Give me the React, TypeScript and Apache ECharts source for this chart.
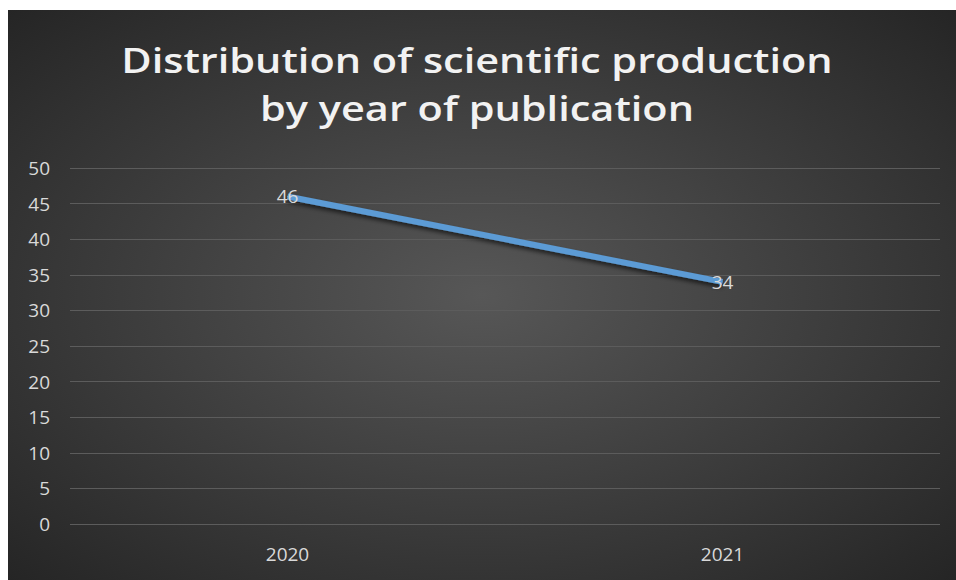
import React, { useEffect, useRef } from "react";
import * as echarts from "echarts";

const titleLines = ["Distribution of scientific production", "by year of publication"];
const years = ["2020", "2021"];
const counts = [46, 34];
const yMin = 0;
const yMax = 50;
const yStep = 5;

export default function App() {
  const ref = useRef<HTMLDivElement>(null);
  useEffect(() => {
    if (!ref.current) return;
    const chart = echarts.init(ref.current, null, { renderer: "svg" });
    const titleStyle = {
      fill: "#f2f2f2",
      font: "600 34px 'Open Sans'",
      textAlign: "center",
      textVerticalAlign: "middle",
      shadowColor: "rgba(0,0,0,0.75)",
      shadowBlur: 4,
      shadowOffsetX: 2,
      shadowOffsetY: 2,
    };
    chart.setOption({
      animation: false,
      backgroundColor: new echarts.graphic.RadialGradient(0.5, 0.5, 0.75, [
        { offset: 0, color: "#575757" },
        { offset: 1, color: "#222222" },
      ]),
      graphic: [
        {
          type: "text",
          x: 469,
          y: 50,
          scaleX: 1.22,
          style: { ...titleStyle, text: titleLines[0] },
        },
        {
          type: "text",
          x: 469,
          y: 98,
          scaleX: 1.22,
          style: { ...titleStyle, text: titleLines[1] },
        },
      ],
      grid: { left: 62, right: 16, top: 158, bottom: 56 },
      xAxis: {
        type: "category",
        data: years,
        boundaryGap: true,
        axisLine: { show: false },
        axisTick: { show: false },
        axisLabel: { color: "#d9d9d9", fontSize: 19, fontFamily: "Open Sans", margin: 20 },
      },
      yAxis: {
        type: "value",
        min: yMin,
        max: yMax,
        interval: yStep,
        axisLine: { show: false },
        axisTick: { show: false },
        axisLabel: { color: "#d9d9d9", fontSize: 19, fontFamily: "Open Sans", margin: 20 },
        splitLine: { lineStyle: { color: "#5c5c5c", width: 1 } },
      },
      series: [
        {
          type: "line",
          data: counts,
          symbol: "circle",
          symbolSize: 1,
          itemStyle: { color: "#5b9bd5" },
          lineStyle: {
            color: "#5b9bd5",
            width: 6,
            shadowColor: "rgba(0,0,0,0.6)",
            shadowBlur: 4,
            shadowOffsetY: 3,
          },
          label: {
            show: true,
            position: "inside",
            color: "#d9d9d9",
            fontSize: 19,
            fontFamily: "Open Sans",
          },
        },
      ],
    });
    return () => chart.dispose();
  }, []);
  return (
    <div
      ref={ref}
      style={{ position: "absolute", left: 8, top: 10, width: 948, height: 570 }}
    />
  );
}
